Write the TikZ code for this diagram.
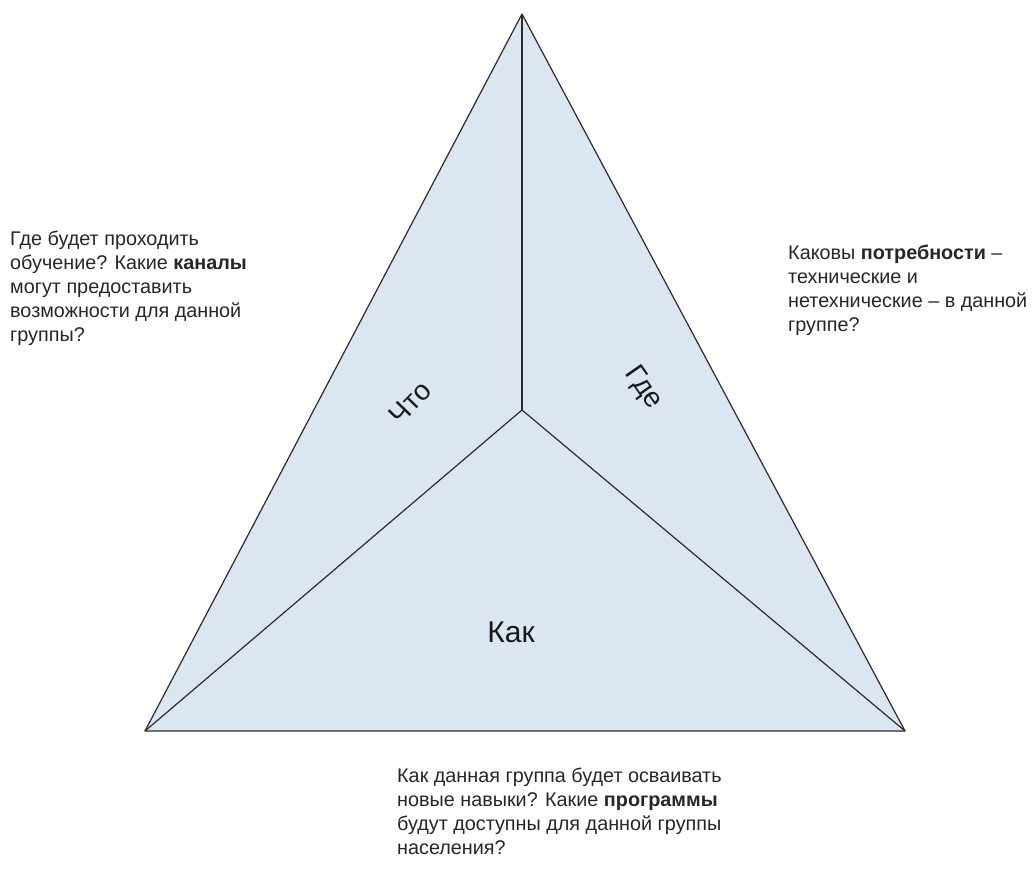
\documentclass[tikz,border=0pt]{standalone}
\usepackage{fontspec}
\setmainfont{Liberation Sans}
\definecolor{trifill}{HTML}{DCE6F2}
\definecolor{edge}{HTML}{2B2B2B}
\begin{document}
\begin{tikzpicture}[x=1pt,y=1pt,
  note/.style={align=left,anchor=north west,inner sep=0pt,font=\fontsize{19.8}{24}\selectfont,text=black!85},
  sector/.style={font=\fontsize{28}{32}\selectfont,text=black!90,inner sep=1pt},
  edgeline/.style={draw=edge,line width=1.2pt,line join=round}]
\useasboundingbox (0,0) rectangle (1036,875);
\coordinate (T) at (522,861);
\coordinate (L) at (145,144);
\coordinate (R) at (905,144);
\coordinate (C) at (522,465);
\fill[trifill] (T) -- (L) -- (R) -- cycle;
\draw[edgeline] (T) -- (L) -- (R) -- cycle;
\draw[edgeline] (C) -- (T);
\draw[edgeline] (C) -- (L);
\draw[edgeline] (C) -- (R);
\node[sector,rotate=46] (what) at (410,472) {Что};
\node[sector,rotate=-55] (where) at (643,487) {Где};
\node[sector,font=\fontsize{30}{34}\selectfont] (how) at (511,243) {Как};
\node[note] (ltext) at (10,644) {Где будет проходить\\обучение? Какие \textbf{каналы}\\могут предоставить\\возможности для данной\\группы?};
\node[note] (rtext) at (788,630) {Каковы \textbf{потребности} –\\технические и\\нетехнические – в данной\\группе?};
\node[note] (btext) at (397,107) {Как данная группа будет осваивать\\новые навыки? Какие \textbf{программы}\\будут доступны для данной группы\\населения?};
\end{tikzpicture}
\end{document}
